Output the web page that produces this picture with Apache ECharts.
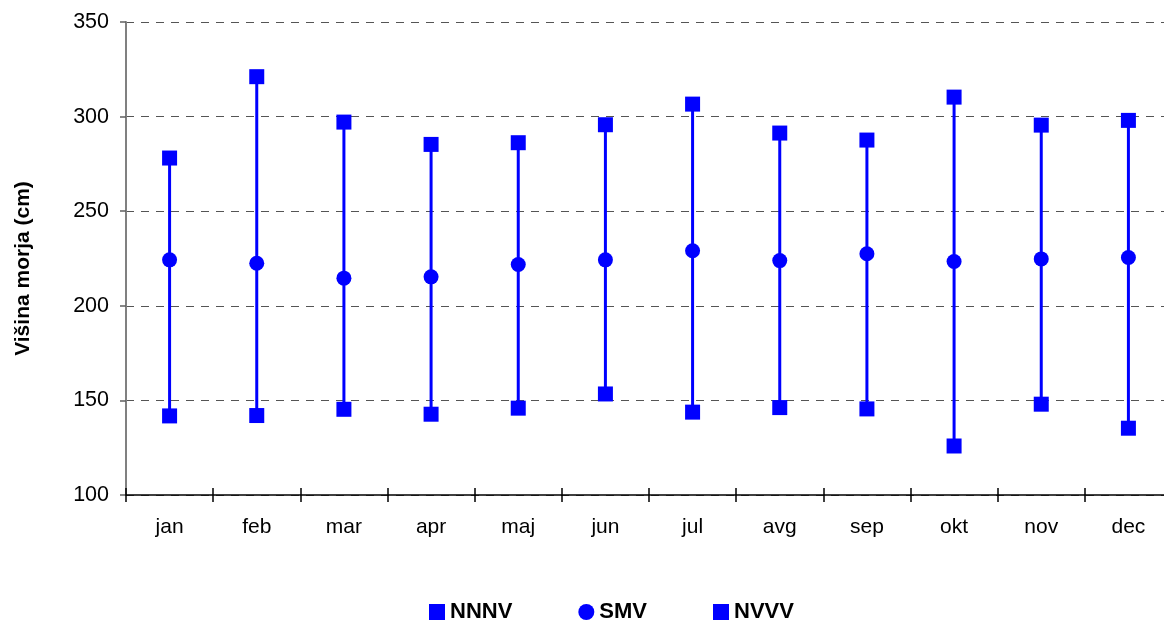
<!DOCTYPE html>
<html>
<head>
<meta charset="utf-8">
<script src="https://cdn.jsdelivr.net/npm/echarts@6/dist/echarts.min.js"></script>
<style>
html,body{margin:0;padding:0;background:#fff;}
#chart{width:1164px;height:621px;}
</style>
</head>
<body>
<div id="chart"></div>
<script>
const months = ['jan','feb','mar','apr','maj','jun','jul','avg','sep','okt','nov','dec'];
const nnnv = [141.8, 142.0, 145.3, 142.7, 145.9, 153.4, 143.8, 146.2, 145.5, 125.9, 148.0, 135.3];
const smv  = [224.3, 222.5, 214.6, 215.3, 221.8, 224.3, 229.1, 223.9, 227.5, 223.4, 224.8, 225.5];
const nvvv = [278.1, 321.1, 297.1, 285.3, 286.2, 295.7, 306.6, 291.3, 287.6, 310.3, 295.5, 298.0];
const yTicks = [100, 150, 200, 250, 300, 350];

const BLUE = '#0000FF';
const FONT = 'Liberation Sans, Arial, sans-serif';

const chart = echarts.init(document.getElementById('chart'), null, {renderer: 'canvas'});

const rangeData = months.map((m, i) => [i, nnnv[i], nvvv[i]]);

chart.setOption({
  animation: false,
  backgroundColor: '#fff',
  grid: {left: 126, top: 22, right: -8, height: 473, containLabel: false, outerBoundsMode: 'none'},
  legend: {
    left: 424, top: 596,
    itemWidth: 16, itemHeight: 16, itemGap: 66,
    textStyle: {fontFamily: FONT, fontSize: 22, fontWeight: 'bold', color: '#000'},
    data: [
      {name: 'NNNV', icon: 'rect'},
      {name: 'SMV', icon: 'circle'},
      {name: 'NVVV', icon: 'rect'}
    ]
  },
  xAxis: [{
    type: 'category',
    data: months,
    boundaryGap: true,
    axisLine: {lineStyle: {color: '#000', width: 1.5}},
    axisTick: {show: true, length: 7, lineStyle: {color: '#000', width: 1.5}},
    axisLabel: {fontFamily: FONT, fontSize: 21, color: '#000', margin: 22},
    splitLine: {show: false}
  }, {
    type: 'category',
    data: months,
    position: 'bottom',
    boundaryGap: true,
    axisLine: {show: false},
    axisTick: {show: true, inside: true, length: 7, lineStyle: {color: '#000', width: 1.5}},
    axisLabel: {show: false},
    splitLine: {show: false}
  }],
  yAxis: {
    type: 'value',
    min: yTicks[0], max: yTicks[yTicks.length - 1], interval: 50,
    name: 'Višina morja (cm)',
    nameLocation: 'middle',
    nameGap: 92,
    nameRotate: 90,
    nameTextStyle: {fontFamily: FONT, fontSize: 21, fontWeight: 'bold', color: '#000', padding: [0, 0, 0, -20]},
    axisLine: {show: true, lineStyle: {color: '#808080', width: 2}},
    axisTick: {show: true, length: 6, lineStyle: {color: '#606060', width: 1.5}},
    axisLabel: {fontFamily: FONT, fontSize: 21.5, color: '#000', margin: 17},
    splitLine: {show: true, lineStyle: {color: '#555', width: 1.2, type: [8, 7]}}
  },
  series: [
    {
      name: 'range',
      type: 'custom',
      data: rangeData,
      z: 1,
      silent: true,
      renderItem: function (params, api) {
        const p1 = api.coord([api.value(0), api.value(1)]);
        const p2 = api.coord([api.value(0), api.value(2)]);
        return {
          type: 'line',
          shape: {x1: p1[0], y1: p1[1], x2: p2[0], y2: p2[1]},
          style: {stroke: BLUE, lineWidth: 3}
        };
      },
      encode: {x: 0, y: [1, 2]}
    },
    {
      name: 'NNNV', type: 'scatter', data: nnnv, symbol: 'rect', symbolSize: 15, z: 3,
      itemStyle: {color: BLUE, opacity: 1}
    },
    {
      name: 'SMV', type: 'scatter', data: smv, symbol: 'circle', symbolSize: 15, z: 3,
      itemStyle: {color: BLUE, opacity: 1}
    },
    {
      name: 'NVVV', type: 'scatter', data: nvvv, symbol: 'rect', symbolSize: 15, z: 3,
      itemStyle: {color: BLUE, opacity: 1}
    }
  ]
});
</script>
</body>
</html>
